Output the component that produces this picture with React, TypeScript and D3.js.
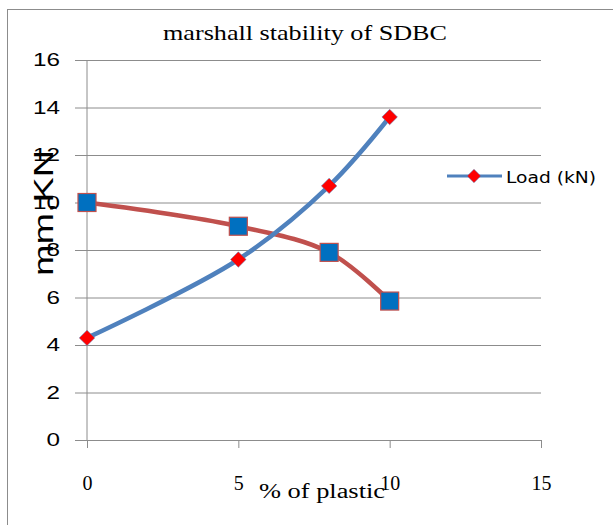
import React, { useEffect, useRef } from "react";
import * as d3 from "d3";

const plastic = [0, 5, 8, 10];
const loadKN = [4.3, 7.6, 10.7, 13.6];
const flowMM = [10, 9, 7.9, 5.85];
const xTicks = [0, 5, 10, 15];
const yTicks = [0, 2, 4, 6, 8, 10, 12, 14, 16];

const App = () => {
  const svgRef = useRef<SVGSVGElement>(null);

  useEffect(() => {
    const svg = d3.select(svgRef.current);
    svg.selectAll("*").remove();

    const x = d3.scaleLinear().domain([0, 15]).range([87, 541]);
    const y = d3.scaleLinear().domain([0, 16]).range([440, 60]);

    // outer chart frame
    svg.append("rect")
      .attr("x", 7.5).attr("y", 9.5)
      .attr("width", 700).attr("height", 600)
      .attr("fill", "white").attr("stroke", "#8c8c8c");

    // title
    svg.append("text")
      .attr("x", 163).attr("y", 40)
      .attr("textLength", 284)
      .attr("lengthAdjust", "spacingAndGlyphs")
      .style("font-family", "Liberation Serif")
      .style("font-size", "21px")
      .text("marshall stability of SDBC");

    // gridlines + y ticks
    const yAxis = d3.axisLeft(y).tickValues(yTicks).tickSize(-(541 - 87)).tickSizeOuter(0).tickPadding(27);
    const gy = svg.append("g").attr("transform", "translate(87,0)").call(yAxis);
    gy.select(".domain").remove();
    gy.selectAll(".tick line").attr("stroke", "#8c8c8c").attr("x1", -12);
    gy.selectAll<SVGTextElement, number>(".tick text")
      .attr("textLength", d => String(d).length * 13.5)
      .attr("lengthAdjust", "spacingAndGlyphs")
      .style("font-family", "Liberation Sans")
      .style("font-size", "18px")
      .attr("fill", "#000");

    // y axis line
    svg.append("line")
      .attr("x1", 87).attr("x2", 87).attr("y1", y(16)).attr("y2", y(0))
      .attr("stroke", "#8c8c8c");

    // x axis
    const xAxis = d3.axisBottom(x).tickValues(xTicks).tickSize(8).tickSizeOuter(0);
    const gx = svg.append("g").attr("transform", `translate(0,${y(0)})`).call(xAxis);
    gx.select(".domain").attr("stroke", "#8c8c8c");
    gx.selectAll(".tick line").attr("stroke", "#8c8c8c");
    gx.selectAll(".tick text")
      .attr("y", 50)
      .attr("dy", "0")
      .style("font-family", "Liberation Serif")
      .style("font-size", "20px")
      .attr("fill", "#000");

    // axis titles
    svg.append("text")
      .attr("x", 259).attr("y", 498)
      .attr("textLength", 126)
      .attr("lengthAdjust", "spacingAndGlyphs")
      .style("font-family", "Liberation Serif")
      .style("font-size", "20px")
      .text("% of plastic");

    svg.append("text")
      .attr("transform", "translate(53,213) rotate(-90)")
      .attr("text-anchor", "middle")
      .attr("textLength", 126)
      .attr("lengthAdjust", "spacingAndGlyphs")
      .style("font-family", "Liberation Sans")
      .style("font-size", "27px")
      .text("mm,KN");

    const line = d3.line<number>()
      .x((d, i) => x(plastic[i]))
      .y(d => y(d))
      .curve(d3.curveCatmullRom.alpha(0.5));

    // flow series (red line, blue squares)
    svg.append("path")
      .datum(flowMM)
      .attr("d", line)
      .attr("fill", "none")
      .attr("stroke", "#C0504D")
      .attr("stroke-width", 4.5);

    // load series (blue line, red diamonds)
    svg.append("path")
      .datum(loadKN)
      .attr("d", line)
      .attr("fill", "none")
      .attr("stroke", "#4F81BD")
      .attr("stroke-width", 4.5);

    svg.selectAll("rect.sq")
      .data(flowMM)
      .join("rect")
      .attr("class", "sq")
      .attr("x", (d, i) => x(plastic[i]) - 9)
      .attr("y", d => y(d) - 9)
      .attr("width", 18).attr("height", 18)
      .attr("fill", "#0070C0")
      .attr("stroke", "#C0504D")
      .attr("stroke-width", 1.2);

    const diamond = d3.symbol().type(d3.symbolSquare).size(120);
    svg.selectAll("path.dm")
      .data(loadKN)
      .join("path")
      .attr("class", "dm")
      .attr("d", diamond)
      .attr("transform", (d, i) => `translate(${x(plastic[i])},${y(d)}) rotate(45)`)
      .attr("fill", "#FF0000")
      .attr("stroke", "#4F81BD")
      .attr("stroke-width", 0.5);

    // legend
    const lg = svg.append("g").attr("transform", "translate(447,176)");
    lg.append("line").attr("x1", 0).attr("x2", 55).attr("y1", 0).attr("y2", 0)
      .attr("stroke", "#4F81BD").attr("stroke-width", 3);
    lg.append("path").attr("d", d3.symbol().type(d3.symbolSquare).size(90))
      .attr("transform", "translate(27,0) rotate(45)")
      .attr("fill", "#FF0000").attr("stroke", "#4F81BD").attr("stroke-width", 0.5);
    lg.append("text").attr("x", 59).attr("y", 7)
      .attr("textLength", 90)
      .attr("lengthAdjust", "spacingAndGlyphs")
      .style("font-family", "DejaVu Sans")
      .style("font-size", "16px")
      .text("Load (kN)");
  }, []);

  return (
    <svg
      ref={svgRef}
      width={613}
      height={525}
      style={{ position: "absolute", left: 0, top: 0, background: "white" }}
    />
  );
};

export default App;
